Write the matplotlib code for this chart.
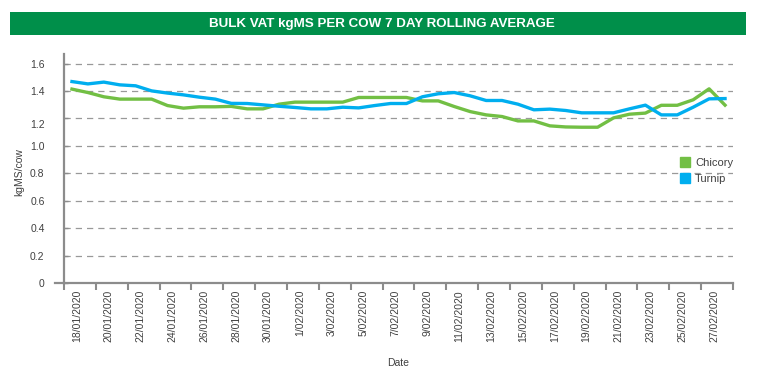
import matplotlib
matplotlib.use("Agg")
import matplotlib.pyplot as plt
import matplotlib.transforms as mtransforms
from matplotlib.patches import Rectangle
from matplotlib.lines import Line2D
import pandas as pd

# ---- data ----
dates = [f"{d.day}/{d.month:02d}/{d.year}" for d in pd.date_range("2020-01-18", "2020-02-28")]
chicory = [1.414, 1.389, 1.358, 1.341, 1.341, 1.341, 1.294, 1.275, 1.285, 1.285,
           1.288, 1.270, 1.270, 1.304, 1.319, 1.319, 1.319, 1.319, 1.353, 1.353,
           1.353, 1.353, 1.328, 1.328, 1.287, 1.250, 1.226, 1.214, 1.182, 1.182,
           1.146, 1.138, 1.136, 1.136, 1.204, 1.231, 1.239, 1.296, 1.296, 1.336,
           1.416, 1.297]
turnip = [1.469, 1.452, 1.465, 1.445, 1.438, 1.401, 1.385, 1.372, 1.355, 1.341,
          1.310, 1.309, 1.299, 1.289, 1.280, 1.270, 1.270, 1.282, 1.277, 1.294,
          1.309, 1.309, 1.358, 1.380, 1.389, 1.365, 1.331, 1.331, 1.304, 1.263,
          1.268, 1.258, 1.241, 1.241, 1.241, 1.270, 1.297, 1.226, 1.226, 1.282,
          1.343, 1.345]
yticks = [0, 0.2, 0.4, 0.6, 0.8, 1.0, 1.2, 1.4, 1.6]
ytick_labels = ["0", "0.2", "0.4", "0.6", "0.8", "1.0", "1.2", "1.4", "1.6"]
title = "BULK VAT kgMS PER COW 7 DAY ROLLING AVERAGE"
series_names = ["Chicory", "Turnip"]

GREEN = "#72BF44"
BLUE = "#00AEEF"
BANNER = "#008F4A"
TEXT = "#404040"
AXIS = "#8C8C8C"

plt.rcParams['font.family'] = ['Liberation Sans', 'DejaVu Sans']

W, H = 759, 378
fig = plt.figure(figsize=(W / 100, H / 100), dpi=100)

def px(x0, y0, x1, y1):
    return [x0 / W, 1 - y1 / H, (x1 - x0) / W, (y1 - y0) / H]

ax = fig.add_axes(px(64, 54, 733, 283))

# title banner
fig.patches.append(Rectangle((10 / W, 1 - 35 / H), 736 / W, 23 / H,
                             transform=fig.transFigure, facecolor=BANNER,
                             edgecolor='none', zorder=0))
fig.text(382 / W, 1 - 23.5 / H, title, color='white', fontsize=9.6,
         fontweight='bold', ha='center', va='center',
         family=['Liberation Sans', 'DejaVu Sans'])

x = list(range(len(dates)))
ax.plot(x, chicory, color=GREEN, lw=2.4, solid_joinstyle='round', zorder=3)
ax.plot(x, turnip, color=BLUE, lw=2.4, solid_joinstyle='round', zorder=3)

ax.set_xlim(-0.5, len(dates) - 0.5)
ax.set_ylim(0, 1.67)

# grid
for v in yticks[1:]:
    ax.axhline(v, color='#999999', lw=0.9, ls=(0, (5, 4)), zorder=1)

# spines
for s in ['top', 'right']:
    ax.spines[s].set_visible(False)
for s in ['left', 'bottom']:
    ax.spines[s].set_color(AXIS)
    ax.spines[s].set_linewidth(1.6)

# y ticks
ax.set_yticks(yticks)
ax.set_yticklabels(ytick_labels)
ax.tick_params(axis='y', direction='in', length=3, width=1, color=AXIS,
               labelsize=7.5, labelcolor=TEXT, pad=14)
# quirk: "1.2" label sits lower in the reference
off = mtransforms.ScaledTranslation(0, -6 / 100, fig.dpi_scale_trans)
for lab in ax.get_yticklabels():
    if lab.get_text() == "1.2":
        lab.set_transform(lab.get_transform() + off)
ax.plot([-0.014, 0], [0, 0], transform=ax.transAxes, color=AXIS, lw=1.6, clip_on=False)

# x ticks: labels at every second category, marks at boundaries
ax.set_xticks(x[::2])
ax.set_xticklabels(dates[::2], rotation=90)
ax.set_xticks([i - 0.5 for i in range(0, len(dates) + 1, 2)], minor=True)
ax.tick_params(axis='x', which='major', length=0, labelsize=7.5, labelcolor=TEXT, pad=5)
ax.tick_params(axis='x', which='minor', length=5, width=1.5, color=AXIS, direction='out')
offx = mtransforms.ScaledTranslation(5 / 100, 0, fig.dpi_scale_trans)
for lab in ax.get_xticklabels():
    lab.set_transform(lab.get_transform() + offx)

ax.set_xlabel("Date", fontsize=7.5, color=TEXT)
ax.xaxis.set_label_coords(0.5, -(358 - 283) / 229)
ax.set_ylabel("kgMS/cow", fontsize=7.5, color=TEXT)
ax.yaxis.set_label_coords((24 - 64) / 669, (283 - 172) / 229)

handles = [Line2D([], [], ls='none', marker='s', markersize=7, color=c) for c in (GREEN, BLUE)]
leg = ax.legend(handles, series_names, loc='center left',
                bbox_to_anchor=((681 - 64) / 669, (283 - 171) / 229),
                frameon=False, fontsize=8, handlelength=0.8, handletextpad=0.45,
                labelspacing=0.5, borderpad=0, borderaxespad=0, labelcolor=TEXT)

fig.savefig("out.png", dpi=100)
